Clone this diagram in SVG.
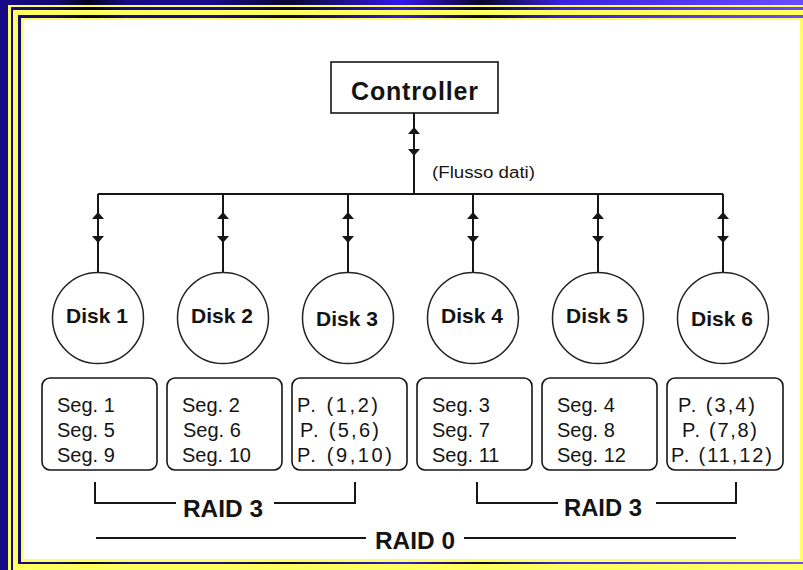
<svg xmlns="http://www.w3.org/2000/svg" width="803" height="570" viewBox="0 0 803 570">
<defs>
<linearGradient id="frame" gradientUnits="userSpaceOnUse" x1="0" y1="0" x2="803" y2="0">
<stop offset="0" stop-color="#170a86"/>
<stop offset="0.07" stop-color="#140870"/>
<stop offset="0.11" stop-color="#05041c"/>
<stop offset="0.16" stop-color="#160a88"/>
<stop offset="0.26" stop-color="#1a0a90"/>
<stop offset="0.36" stop-color="#0a0630"/>
<stop offset="0.5" stop-color="#3416ee"/>
<stop offset="0.56" stop-color="#1c0a78"/>
<stop offset="0.6" stop-color="#08052a"/>
<stop offset="0.7" stop-color="#3a20e0"/>
<stop offset="1" stop-color="#6a4cff"/>
</linearGradient>
<path id="up" d="M0,0 L6,7 L-6,7 Z"/>
<path id="down" d="M0,0 L6,-7 L-6,-7 Z"/>
</defs>
<style>
.ln{stroke:#161616;stroke-width:2;fill:none}
.ah{fill:#161616}
.box{fill:#fff;stroke:#161616;stroke-width:1.6}
.disk{fill:#fff;stroke:#222;stroke-width:1.5}
.t{font-family:"Liberation Sans",Arial,sans-serif;fill:#141414}
.b{font-weight:bold}
.seg{font-size:20px}
.dk{font-size:21px;font-weight:bold;text-anchor:middle}
.raid{font-size:24px;font-weight:bold}
</style>
<g id="frame-border">
<rect x="0" y="0" width="803" height="570" fill="url(#frame)"/>
<rect x="8" y="5" width="800" height="570" fill="#ffff5e"/>
<rect x="11" y="7" width="800" height="570" fill="url(#frame)"/>
<rect x="13" y="10" width="800" height="570" fill="#ffff5e"/>
<rect x="18" y="15" width="787" height="549" fill="url(#frame)"/>
<rect x="21" y="18" width="782" height="544" fill="#ffff5e"/>
<rect x="23" y="20" width="777" height="539" fill="#ffffff"/>
</g>
<g id="connectors">
<line class="ln" x1="414" y1="113" x2="414" y2="194"/>
<line class="ln" x1="98" y1="194" x2="723" y2="194"/>
<use href="#up" class="ah" x="414" y="127"/>
<use href="#down" class="ah" x="414" y="156"/>
<line class="ln" x1="98" y1="194" x2="98" y2="273"/>
<line class="ln" x1="223" y1="194" x2="223" y2="273"/>
<line class="ln" x1="348" y1="194" x2="348" y2="273"/>
<line class="ln" x1="473" y1="194" x2="473" y2="273"/>
<line class="ln" x1="598" y1="194" x2="598" y2="273"/>
<line class="ln" x1="723" y1="194" x2="723" y2="273"/>
<use href="#up" class="ah" x="98" y="212"/><use href="#down" class="ah" x="98" y="243"/>
<use href="#up" class="ah" x="223" y="212"/><use href="#down" class="ah" x="223" y="243"/>
<use href="#up" class="ah" x="348" y="212"/><use href="#down" class="ah" x="348" y="243"/>
<use href="#up" class="ah" x="473" y="212"/><use href="#down" class="ah" x="473" y="243"/>
<use href="#up" class="ah" x="598" y="212"/><use href="#down" class="ah" x="598" y="243"/>
<use href="#up" class="ah" x="723" y="212"/><use href="#down" class="ah" x="723" y="243"/>
</g>
<g id="flow-label">
<text class="t" x="432" y="178" font-size="16" textLength="103" lengthAdjust="spacingAndGlyphs">(Flusso dati)</text>
</g>
<g id="controller">
<rect class="box" x="331" y="62" width="167" height="51"/>
<text class="t b" x="351" y="100" font-size="25" textLength="127" lengthAdjust="spacing">Controller</text>
</g>
<g id="disk1"><circle class="disk" cx="98" cy="318" r="45.5"/><text class="t dk" x="97" y="323">Disk 1</text></g>
<g id="disk2"><circle class="disk" cx="223" cy="318" r="45.5"/><text class="t dk" x="222" y="323">Disk 2</text></g>
<g id="disk3"><circle class="disk" cx="348" cy="318" r="45.5"/><text class="t dk" x="347" y="326">Disk 3</text></g>
<g id="disk4"><circle class="disk" cx="473" cy="318" r="45.5"/><text class="t dk" x="472" y="323">Disk 4</text></g>
<g id="disk5"><circle class="disk" cx="598" cy="318" r="45.5"/><text class="t dk" x="597" y="323">Disk 5</text></g>
<g id="disk6"><circle class="disk" cx="723" cy="318" r="45.5"/><text class="t dk" x="722" y="326">Disk 6</text></g>
<g id="segs1">
<rect class="box" x="42" y="378" width="115" height="92" rx="8"/>
<text class="t seg" x="57" y="412">Seg. 1</text>
<text class="t seg" x="57" y="437">Seg. 5</text>
<text class="t seg" x="57" y="462">Seg. 9</text>
</g>
<g id="segs2">
<rect class="box" x="167" y="378" width="115" height="92" rx="8"/>
<text class="t seg" x="182" y="412">Seg. 2</text>
<text class="t seg" x="183" y="437">Seg. 6</text>
<text class="t seg" x="182" y="462">Seg. 10</text>
</g>
<g id="segs3">
<rect class="box" x="292" y="378" width="115" height="92" rx="8"/>
<text class="t seg" x="297" y="412" textLength="81" lengthAdjust="spacing">P. (1,2)</text>
<text class="t seg" x="300" y="437" textLength="79" lengthAdjust="spacing">P. (5,6)</text>
<text class="t seg" x="297" y="462" textLength="95" lengthAdjust="spacing">P. (9,10)</text>
</g>
<g id="segs4">
<rect class="box" x="417" y="378" width="115" height="92" rx="8"/>
<text class="t seg" x="432" y="412">Seg. 3</text>
<text class="t seg" x="432" y="437">Seg. 7</text>
<text class="t seg" x="432" y="462">Seg. 11</text>
</g>
<g id="segs5">
<rect class="box" x="542" y="378" width="115" height="92" rx="8"/>
<text class="t seg" x="557" y="412">Seg. 4</text>
<text class="t seg" x="557" y="437">Seg. 8</text>
<text class="t seg" x="557" y="462">Seg. 12</text>
</g>
<g id="segs6">
<rect class="box" x="667" y="378" width="116" height="92" rx="8"/>
<text class="t seg" x="678" y="412" textLength="77" lengthAdjust="spacing">P. (3,4)</text>
<text class="t seg" x="682" y="437" textLength="75" lengthAdjust="spacing">P. (7,8)</text>
<text class="t seg" x="671" y="462" textLength="101" lengthAdjust="spacing">P. (11,12)</text>
</g>
<g id="raid3-left">
<polyline class="ln" points="95,482 95,503 176,503"/>
<polyline class="ln" points="274,503 355,503 355,482"/>
<text class="t raid" x="183" y="517" textLength="80" lengthAdjust="spacingAndGlyphs">RAID 3</text>
</g>
<g id="raid3-right">
<polyline class="ln" points="477,482 477,503 558,503"/>
<polyline class="ln" points="656,503 736,503 736,482"/>
<text class="t raid" x="564" y="516" textLength="78" lengthAdjust="spacingAndGlyphs">RAID 3</text>
</g>
<g id="raid0">
<line class="ln" x1="96" y1="538" x2="366" y2="538"/>
<line class="ln" x1="464" y1="538" x2="736" y2="538"/>
<text class="t raid" x="375" y="549" textLength="80" lengthAdjust="spacingAndGlyphs">RAID 0</text>
</g>
</svg>
